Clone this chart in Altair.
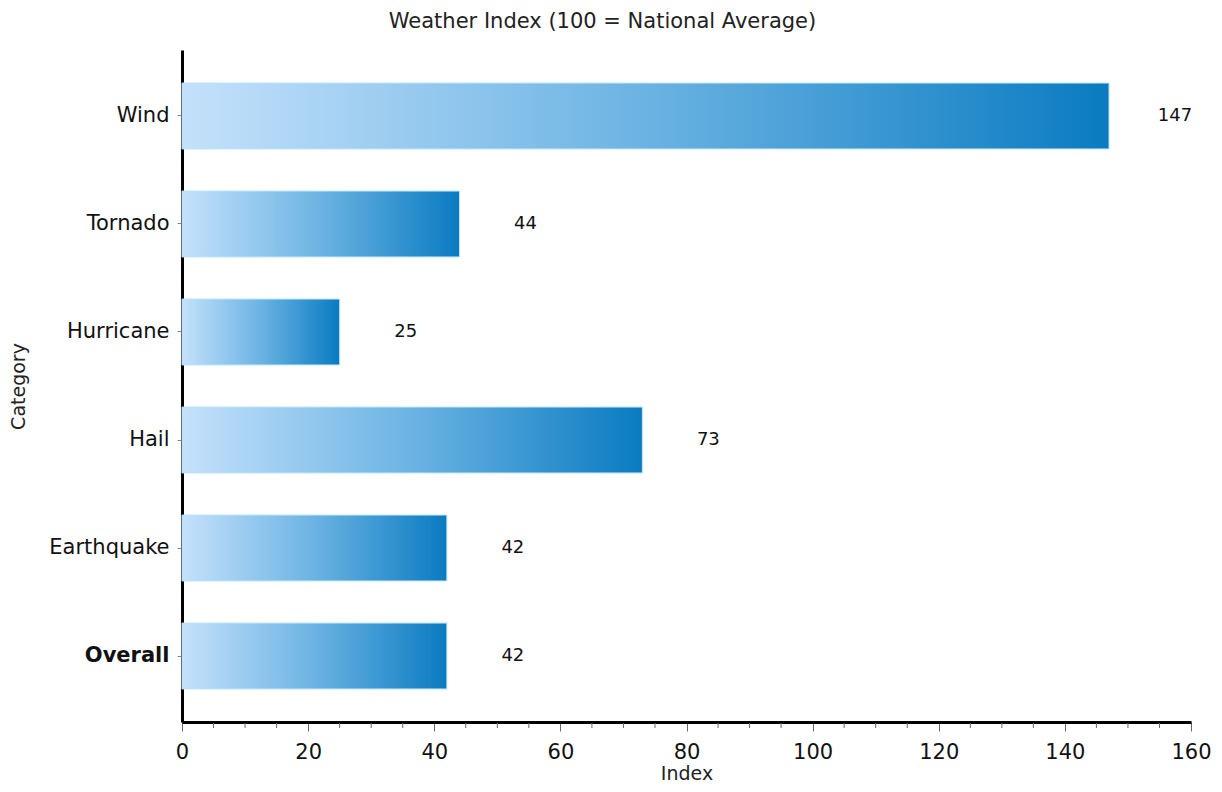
import altair as alt
import pandas as pd

categories = ["Wind", "Tornado", "Hurricane", "Hail", "Earthquake", "Overall"]
values = [147, 44, 25, 73, 42, 42]
minor_ticks = [v for v in range(5, 160, 5) if v % 20 != 0]

df = pd.DataFrame({"Category": categories, "Index": values})
ticks_df = pd.DataFrame({"t": minor_ticks})

W, H = 1009, 672
FONT = "DejaVu Sans"

grad = alt.Gradient(
    gradient="linear",
    stops=[
        alt.GradientStop(color="#c4e1fb", offset=0),
        alt.GradientStop(color="#6bb3e3", offset=0.5),
        alt.GradientStop(color="#0a7bc1", offset=1),
    ],
    x1=0, x2=1, y1=0, y2=0,
)

y_enc = alt.Y(
    "Category:N",
    sort=categories,
    scale=alt.Scale(paddingInner=0.39, paddingOuter=0.306),
    axis=alt.Axis(
        title="Category",
        titleFont=FONT, titleFontSize=19, titleFontWeight="normal", titleColor="#222",
        titlePadding=20,
        labelFont=FONT, labelFontSize=21, labelColor="#111", labelPadding=8,
        labelFontWeight=alt.ExprRef("datum.value == 'Overall' ? 'bold' : 'normal'"),
        domainColor="#000", domainWidth=3,
        tickColor="#888", tickSize=5, tickWidth=1,
    ),
)

x_scale = alt.Scale(domain=[0, 160], nice=False)
x_enc = alt.X(
    "Index:Q",
    scale=x_scale,
    axis=alt.Axis(
        title="Index",
        values=list(range(0, 161, 20)),
        titleFont=FONT, titleFontSize=19, titleFontWeight="normal", titleColor="#222",
        titlePadding=2,
        labelFont=FONT, labelFontSize=21, labelColor="#111", labelPadding=10,
        labelFlush=False,
        domainColor="#000", domainWidth=3,
        tickColor="#666", tickSize=9, tickWidth=1,
        grid=False,
    ),
)

bars = alt.Chart(df).mark_bar(
    color=grad, stroke="#b8e4f7", strokeWidth=1
).encode(x=x_enc, y=y_enc)

labels = alt.Chart(df).mark_text(
    align="center", baseline="middle", dx=66, font=FONT, fontSize=18, color="#111"
).encode(x="Index:Q", y=alt.Y("Category:N", sort=categories), text="Index:Q")

minor = alt.Chart(ticks_df).mark_rule(color="#666", strokeWidth=1).encode(
    x=alt.X("t:Q", scale=x_scale),
    y=alt.value(H + 1),
    y2=alt.value(H + 6),
)

chart = alt.layer(bars, labels, minor).properties(
    width=W,
    height=H,
    background="white",
    title=alt.TitleParams(
        "Weather Index (100 = National Average)",
        font=FONT, fontSize=21, fontWeight="normal", color="#222",
        anchor="middle", dx=-84, offset=18,
    ),
    autosize=alt.AutoSizeParams(type="none"),
    padding={"left": 174, "top": 42, "right": 20, "bottom": 62},
).configure_view(stroke=None)

chart.save("out.html", embed_options={"renderer": "svg", "actions": False})
